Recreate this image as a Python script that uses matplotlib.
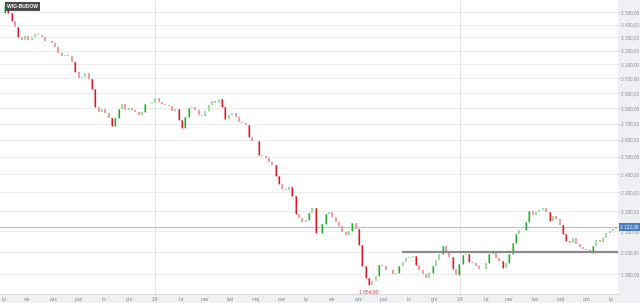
import numpy as np
import pandas as pd
import matplotlib
matplotlib.use("Agg")
import matplotlib.pyplot as plt
from matplotlib.ticker import FixedLocator, NullLocator

plt.rcParams["font.family"] = ["Liberation Sans", "DejaVu Sans"]

# closes of WIG-BUDOW, one reading every 4 days from 2017-07-01
closes = [
    3494, 3551, 3494, 3429, 3381, 3304, 3281, 3311, 3281, 3304,
    3327, 3319, 3304, 3273, 3273, 3258, 3228, 3183, 3161, 3168,
    3161, 3117, 3045, 3002, 3009, 3038, 2995, 2927, 2806, 2774,
    2793, 2767, 2735, 2685, 2735, 2793, 2826, 2787, 2800, 2787,
    2774, 2754, 2774, 2826, 2826, 2832, 2866, 2839, 2826, 2819,
    2813, 2780, 2793, 2722, 2672, 2741, 2800, 2806, 2787, 2754,
    2748, 2780, 2819, 2845, 2832, 2859, 2806, 2728, 2754, 2767,
    2741, 2709, 2703, 2691, 2617, 2593, 2593, 2509, 2503, 2491,
    2468, 2451, 2389, 2345, 2318, 2312, 2329, 2280, 2187, 2166,
    2146, 2156, 2192, 2218, 2092, 2092, 2136, 2187, 2197, 2171,
    2146, 2126, 2097, 2082, 2102, 2141, 2112, 2034, 1938, 1884,
    1854.9, 1871, 1893, 1942, 1938, 1919, 1919, 1901, 1906, 1938,
    1955, 1973, 1978, 1982, 1942, 1919, 1901, 1884, 1906, 1938,
    1964, 1992, 2029, 2001, 1978, 1923, 1897, 1946, 1987, 1992,
    1955, 1951, 1938, 1923, 1923, 1951, 1992, 1996, 1973, 1960,
    1928, 1951, 1992, 2043, 2087, 2107, 2107, 2146, 2202, 2182,
    2197, 2207, 2218, 2197, 2151, 2176, 2161, 2131, 2087, 2053,
    2043, 2068, 2038, 2024, 2015, 2011, 1996, 2029, 2058, 2048,
    2068, 2092, 2102, 2112, 2122,
]
dates = pd.date_range("2017-07-01", periods=len(closes), freq="4D")

y_ticks = [1900, 2000, 2100, 2200, 2300, 2400, 2500, 2600, 2700, 2800,
           2900, 3000, 3100, 3200, 3300, 3400, 3500]
month_names = ["sty", "lut", "mar", "kwi", "maj", "cze", "lip", "sie", "wrz",
               "paź", "lis", "gru"]
support_level = 2000
support_start = "2018-10-24"
title = "WIG-BUDOW"

closes = np.array(closes, dtype=float)
opens = np.r_[closes[0], closes[:-1]]
y_lo, y_hi = 1815, 3601

fig = plt.figure(figsize=(6.4, 3.03), dpi=100, facecolor="#eef0f3")
ax = fig.add_axes([0, 9 / 303, 618 / 640, 294 / 303])
ax.set_facecolor("white")
ax.set_yscale("log")
ax.set_ylim(y_lo, y_hi)
ax.set_xlim(pd.Timestamp("2017-06-29"), pd.Timestamp("2019-07-09"))

# grid
for v in y_ticks:
    ax.axhline(v, color="#ececec", lw=0.7, zorder=0)
for yr in ["2018-01-01", "2019-01-01"]:
    ax.axvline(pd.Timestamp(yr), color="#e4e4e4", lw=0.8, zorder=0)

# candles
up = closes >= opens
ax.vlines(dates[up], opens[up], closes[up], color="#8ad88a", lw=1.2, zorder=3)
ax.vlines(dates[~up], opens[~up], closes[~up], color="#f58a90", lw=1.2, zorder=3)
big = np.abs(closes - opens) / opens > 0.015
ax.vlines(dates[big & up], opens[big & up], closes[big & up], color="#1faa2a", lw=0.9, zorder=4)
ax.vlines(dates[big & ~up], opens[big & ~up], closes[big & ~up], color="#e0141e", lw=0.9, zorder=4)

# support line
ax.plot([pd.Timestamp(support_start), pd.Timestamp("2019-07-09")],
        [support_level, support_level], color="#8a8a8a", lw=1.6, zorder=5)

# last price line and label
last = closes[-1]
ax.axhline(last, color="#b9c3d6", lw=0.9, zorder=2)
fmt = lambda v: f"{v:,.2f}".replace(",", " ").replace(".", ",")
frac = np.log(last / y_lo) / np.log(y_hi / y_lo)
fig.text(620 / 640, (9 + 294 * frac) / 303, fmt(last), fontsize=3.4, color="white",
         va="center", ha="left",
         bbox=dict(boxstyle="square,pad=0.25", fc="#4a7cc4", ec="none"), zorder=10)

# min label
i_min = int(np.argmin(closes))
ax.annotate(fmt(closes[i_min]), (dates[i_min], closes[i_min]), xytext=(0, -3),
            textcoords="offset points", ha="center", va="top", fontsize=3.6,
            color="#e53935")

# axes decoration
ax.yaxis.tick_right()
ax.yaxis.set_major_locator(FixedLocator(y_ticks))
ax.yaxis.set_minor_locator(NullLocator())
ax.set_yticklabels([fmt(v) for v in y_ticks])
ax.tick_params(axis="y", length=1.5, width=0.5, color="#c0c0c0", labelsize=3.4,
               labelcolor="#8a8a8a", pad=1)
months = pd.date_range("2017-07-01", "2019-07-01", freq="MS")
ax.set_xticks(months)
ax.set_xticklabels([("'" + m.strftime("%y")) if m.month == 1 else month_names[m.month - 1]
                    for m in months])
ax.tick_params(axis="x", length=0, labelsize=3.6, labelcolor="#8a8a8a", pad=2)
ax.get_xticklabels()[0].set_horizontalalignment("left")
for s in ["top", "left", "right"]:
    ax.spines[s].set_visible(False)
ax.spines["bottom"].set_color("#d8d8d8")
ax.spines["bottom"].set_linewidth(0.6)

ax.text(0.012, 0.985, title, transform=ax.transAxes, fontsize=3.6, color="white",
        fontweight="bold", va="top", ha="left",
        bbox=dict(boxstyle="square,pad=0.4", fc="#4a4a4a", ec="none"), zorder=10)

fig.savefig("out.png", dpi=100, facecolor=fig.get_facecolor())
